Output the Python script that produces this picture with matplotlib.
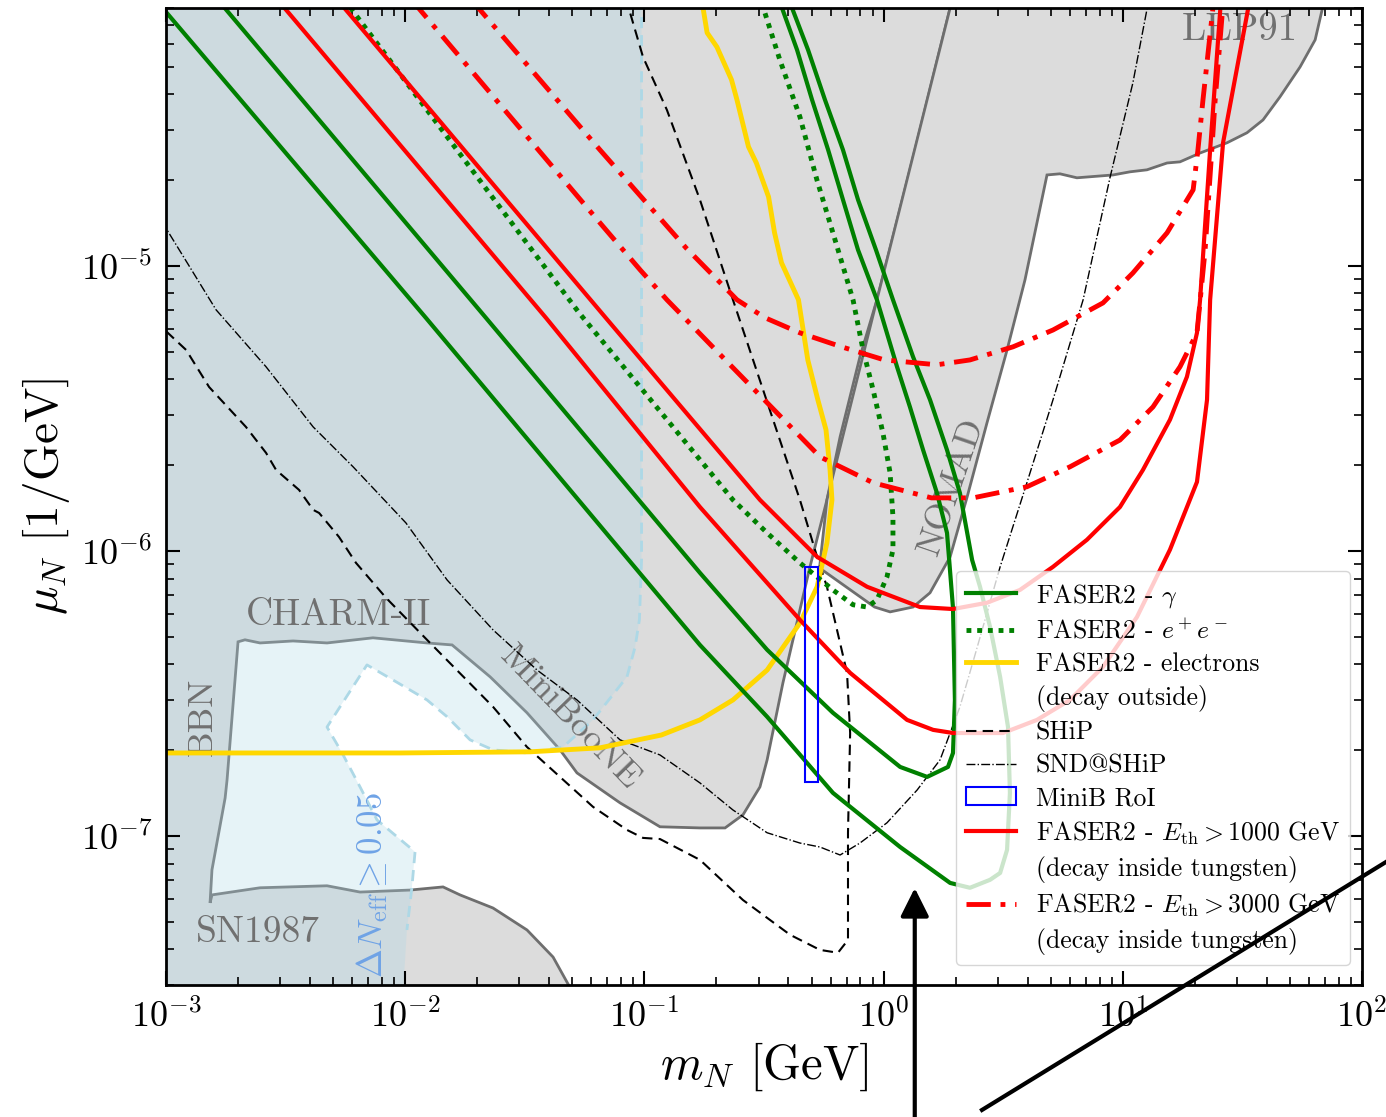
import numpy as np
import matplotlib.pyplot as plt
from matplotlib.lines import Line2D
from matplotlib.patches import Patch, Rectangle, FancyArrowPatch

plt.rcParams['font.family'] = 'serif'
plt.rcParams['font.serif'] = ['cmr10', 'DejaVu Serif']
plt.rcParams['mathtext.fontset'] = 'cm'
plt.rcParams['axes.formatter.use_mathtext'] = True

# all curves as log10(m_N / GeV), log10(mu_N * GeV)

# excluded: BBN / CHARM-II / MiniBooNE / SN1987
mb_lm = [-3.2, -3.2, -1.20, -1.382, -1.491, -1.633, -1.771, -1.842, -1.980, -2.189, -2.327, -2.607,
         -2.808, -2.816, -2.808, -2.753, -2.745, -2.699, -2.670, -2.607, -2.469, -2.327, -2.135,
         -1.909, -1.804, -1.645, -1.491, -1.353, -1.282, -1.102, -0.935, -0.768, -0.663, -0.588,
         -0.517, -0.487, -0.421, -0.350, -0.308, -0.237, -0.182, -0.099, -0.028, 0.131, 0.278, 0.31]
mb_lmu = [-3.9, -7.7, -7.7, -7.425, -7.330, -7.253, -7.207, -7.179, -7.190, -7.197, -7.175, -7.182,
          -7.207, -7.235, -7.119, -6.867, -6.804, -6.319, -6.312, -6.323, -6.316, -6.323, -6.305,
          -6.323, -6.330, -6.442, -6.568, -6.698, -6.779, -6.884, -6.968, -6.972, -6.972, -6.926,
          -6.828, -6.733, -6.463, -6.207, -6.056, -5.821, -5.600, -5.319, -5.119, -4.593, -4.095, -3.9]

# excluded: NOMAD + LEP91
nl_lm = [0.31, 1.84, 1.833, 1.804, 1.741, 1.657, 1.586, 1.519, 1.436, 1.323, 1.239, 1.185, 1.101,
         1.030, 0.959, 0.808, 0.737, 0.683, 0.591, 0.516, 0.432, 0.349, 0.278, 0.194, 0.123, 0.027,
         -0.038, -0.122, -0.268, -0.237, -0.028, 0.278, 0.31]
nl_lmu = [-3.9, -3.9, -4.102, -4.207, -4.302, -4.407, -4.488, -4.533, -4.568, -4.604, -4.635, -4.639,
          -4.663, -4.670, -4.681, -4.691, -4.677, -4.681, -5.049, -5.295, -5.551, -5.811, -6.021,
          -6.147, -6.197, -6.214, -6.197, -6.147, -6.06, -5.821, -5.119, -4.095, -3.9]

# Delta N_eff >= 0.05
dn_lm = [-3.2, -1.012, -1.012, -1.021, -1.039, -1.073, -1.215, -1.340, -1.491, -1.633, -1.729, -1.825,
         -1.909, -2.051, -2.160, -2.327, -2.264, -2.189, -2.118, -1.959, -1.972, -1.993, -2.02, -3.2]
dn_lmu = [-3.9, -3.9, -6.032, -6.242, -6.337, -6.442, -6.593, -6.688, -6.709, -6.698, -6.663, -6.582,
          -6.523, -6.453, -6.400, -6.618, -6.709, -6.828, -6.944, -7.056, -7.179, -7.330, -7.7, -7.7]

# FASER2 - gamma, two contours
g1_lm = [-2.79, -1.662, -0.768, -0.487, -0.212, 0.069, 0.182, 0.269, 0.290, 0.298, 0.290, 0.265,
         0.223, 0.165, 0.110, 0.056, -0.028, -0.107, -0.170, -0.232, -0.299, -0.362, -0.425, -0.44]
g1_lmu = [-4.06, -5.183, -6.077, -6.347, -6.568, -6.758, -6.793, -6.758, -6.709, -6.523, -6.200, -5.937,
          -5.797, -5.646, -5.495, -5.354, -5.119, -4.944, -4.768, -4.593, -4.418, -4.242, -4.095, -4.05]
g2_lm = [-3.05, -1.913, -0.768, -0.487, -0.212, 0.069, 0.278, 0.361, 0.445, 0.487, 0.516, 0.528,
         0.520, 0.487, 0.445, 0.403, 0.370, 0.319, 0.265, 0.194, 0.123, 0.039, -0.032, -0.107,
         -0.170, -0.245, -0.316, -0.383, -0.39]
g2_lmu = [-4.06, -5.183, -6.330, -6.582, -6.849, -7.039, -7.165, -7.182, -7.154, -7.130, -7.049, -6.849,
          -6.618, -6.442, -6.267, -6.126, -6.032, -5.797, -5.646, -5.470, -5.319, -5.119, -4.944, -4.768,
          -4.593, -4.418, -4.242, -4.095, -4.05]

# FASER2 - e+e-
ee_lm = [-2.26, -1.273, -0.630, -0.487, -0.350, -0.212, -0.128, -0.069, -0.028, 0.014, 0.039, 0.039,
         0.027, -0.003, -0.044, -0.086, -0.128, -0.212, -0.279, -0.350, -0.434, -0.52]
ee_lmu = [-4.06, -5.165, -5.821, -5.937, -6.042, -6.137, -6.189, -6.197, -6.172, -6.091, -5.996, -5.881,
          -5.726, -5.586, -5.435, -5.295, -5.119, -4.884, -4.698, -4.477, -4.277, -4.05]

# FASER2 - electrons
el_lm = [-3.1, -2.022, -1.478, -1.186, -0.929, -0.768, -0.630, -0.487, -0.350, -0.278, -0.237, -0.216,
         -0.224, -0.241, -0.275, -0.317, -0.356, -0.427, -0.456, -0.481, -0.532, -0.565, -0.613,
         -0.636, -0.697, -0.738, -0.755, -0.76]
el_lmu = [-6.709, -6.709, -6.705, -6.691, -6.646, -6.593, -6.523, -6.418, -6.253, -6.126, -5.972, -5.821,
          -5.716, -5.575, -5.470, -5.330, -5.119, -4.989, -4.884, -4.758, -4.639, -4.582, -4.418,
          -4.347, -4.232, -4.182, -4.095, -4.05]

# FASER2 - E_th > 1000 GeV, two contours
ra_lm = [-2.54, -1.411, -0.768, -0.350, -0.140, 0.098, 0.207, 0.290, 0.499, 0.641, 0.779, 0.917,
         1.059, 1.197, 1.310, 1.352, 1.365, 1.419, 1.53]
ra_lmu = [-4.06, -5.183, -5.846, -6.242, -6.428, -6.593, -6.628, -6.639, -6.639, -6.593, -6.523, -6.407,
          -6.232, -5.996, -5.758, -5.470, -5.119, -4.568, -4.07]
rb_lm = [-2.29, -1.161, -0.517, -0.278, -0.069, 0.152, 0.290, 0.432, 0.570, 0.708, 0.850, 0.988,
         1.084, 1.197, 1.268, 1.310, 1.323, 1.365, 1.41]
rb_lmu = [-4.06, -5.183, -5.821, -6.021, -6.126, -6.197, -6.204, -6.182, -6.137, -6.056, -5.961, -5.846,
          -5.716, -5.540, -5.389, -5.235, -5.119, -4.593, -4.07]

# FASER2 - E_th > 3000 GeV, two contours
rd1_lm = [-1.73, -1.186, -0.826, -0.613, -0.496, -0.350, -0.176, 0.003, 0.223, 0.361, 0.541, 0.708,
          0.917, 1.042, 1.185, 1.294, 1.314, 1.335, 1.38]
rd1_lmu = [-4.06, -4.593, -4.937, -5.119, -5.182, -5.235, -5.284, -5.330, -5.347, -5.330, -5.284, -5.225,
           -5.130, -5.025, -4.884, -4.733, -4.593, -4.418, -4.07]
rd2_lm = [-1.98, -1.186, -1.018, -0.906, -0.642, -0.266, -0.044, 0.200, 0.374, 0.599, 0.779, 0.988,
          1.126, 1.239, 1.310, 1.344, 1.386, 1.42]
rd2_lmu = [-4.06, -4.849, -5.014, -5.119, -5.347, -5.670, -5.761, -5.814, -5.814, -5.775, -5.705, -5.611,
           -5.495, -5.354, -5.235, -4.944, -4.418, -4.07]

# SHiP
ship_lm = [-3.05, -2.916, -2.820, -2.666, -2.582, -2.540, -2.444, -2.385, -2.360, -2.277, -2.206, -2.080,
           -1.909, -1.633, -1.491, -1.353, -1.215, -1.073, -1.006, -0.935, -0.768, -0.588, -0.391,
           -0.266, -0.191, -0.149, -0.149, -0.149, -0.140, -0.153, -0.237, -0.278, -0.350, -0.630,
           -0.768, -0.906, -1.006, -1.060, -1.08]
ship_lmu = [-5.19, -5.295, -5.425, -5.565, -5.656, -5.716, -5.786, -5.856, -5.867, -5.951, -6.042, -6.165,
            -6.312, -6.547, -6.688, -6.793, -6.898, -6.979, -7.007, -7.011, -7.084, -7.225, -7.347,
            -7.400, -7.410, -7.365, -7.225, -6.989, -6.639, -6.428, -6.126, -6.021, -5.821, -5.119,
            -4.768, -4.453, -4.267, -4.112, -4.04]

# SND@SHiP
snd_lm = [-3.05, -2.791, -2.582, -2.385, -2.218, -1.997, -1.825, -1.633, -1.449, -1.282, -1.102, -0.935,
          -0.768, -0.630, -0.487, -0.350, -0.266, -0.182, -0.099, 0.014, 0.140, 0.236, 0.319, 0.382,
          0.487, 0.599, 0.708, 0.834, 0.947, 1.042, 1.11]
snd_lmu = [-4.80, -5.154, -5.354, -5.565, -5.705, -5.902, -6.102, -6.277, -6.418, -6.523, -6.663, -6.716,
           -6.814, -6.909, -6.989, -7.025, -7.039, -7.067, -7.025, -6.954, -6.839, -6.733, -6.547, -6.365,
           -6.056, -5.761, -5.470, -5.119, -4.688, -4.358, -4.06]

# MiniBooNE region of interest
roi_m = [0.469, 0.532]
roi_mu = [1.55e-7, 8.8e-7]


def d(a):
    return 10**np.array(a, dtype=float)


fig = plt.figure(figsize=(13.86, 11.17), dpi=100)
ax = fig.add_axes([0.1198, 0.1182, 0.8629, 0.8747])
ax.set_xscale('log')
ax.set_yscale('log')

gray_edge = '#6e6e6e'
ax.fill(d(mb_lm), d(mb_lmu), facecolor='#dcdcdc', edgecolor=gray_edge, lw=2, zorder=1)
ax.fill(d(nl_lm), d(nl_lmu), facecolor='#dcdcdc', edgecolor=gray_edge, lw=2, zorder=1)
ax.fill(d(dn_lm), d(dn_lmu), facecolor='lightblue', alpha=0.3, lw=0, zorder=1.1)
ax.plot(d(dn_lm[1:-2]), d(dn_lmu[1:-2]), color='lightblue', lw=2, ls=(0, (4, 2.5)), zorder=1.2)

tcol = '#707070'
ax.text(10**-2.281, 10**-6.225, 'CHARM-II', color=tcol, fontsize=27, ha='center', va='center', zorder=1.5)
ax.text(10**-2.615, 10**-7.337, 'SN1987', color=tcol, fontsize=27, ha='center', va='center', zorder=1.5)
ax.text(10**-2.845, 10**-6.582, 'BBN', color=tcol, fontsize=26, rotation=90, ha='center', va='center', zorder=1.5)
ax.text(10**-1.311, 10**-6.586, 'MiniBooNE', color=tcol, fontsize=26, rotation=-46,
        ha='center', va='center', rotation_mode='anchor', zorder=1.5)
ax.text(10**0.286, 10**-5.776, 'NOMAD', color=tcol, fontsize=26, rotation=71,
        ha='center', va='center', rotation_mode='anchor', zorder=1.5)
ax.text(10**1.49, 10**-4.172, 'LEP91', color=tcol, fontsize=28, ha='center', va='center', zorder=1.5)
ax.text(10**-2.139, 10**-7.172, r'$\Delta N_{\rm eff} \geq 0.05$', color='#6fa3e6', fontsize=25,
        rotation=90, ha='center', va='center', zorder=1.5)

ax.plot(d(ship_lm), d(ship_lmu), color='k', lw=1.5, ls=(0, (5, 3)), zorder=2)
ax.plot(d(snd_lm), d(snd_lmu), color='k', lw=1, ls='-.', zorder=2)
ax.plot(d(el_lm), d(el_lmu), color='gold', lw=3.5, zorder=2.1)
ax.plot(d(g1_lm), d(g1_lmu), color='green', lw=3, zorder=2.2)
ax.plot(d(g2_lm), d(g2_lmu), color='green', lw=3, zorder=2.2)
ax.plot(d(ee_lm), d(ee_lmu), color='green', lw=3.5, ls=(0, (1, 1.2)), zorder=2.2)
ax.plot(d(ra_lm), d(ra_lmu), color='red', lw=3, zorder=2.3)
ax.plot(d(rb_lm), d(rb_lmu), color='red', lw=3, zorder=2.3)
ax.plot(d(rd1_lm), d(rd1_lmu), color='red', lw=3.5, ls=(0, (5, 2, 1, 2)), zorder=2.3)
ax.plot(d(rd2_lm), d(rd2_lmu), color='red', lw=3.5, ls=(0, (5, 2, 1, 2)), zorder=2.3)
ax.add_patch(Rectangle((roi_m[0], roi_mu[0]), roi_m[1] - roi_m[0], roi_mu[1] - roi_mu[0],
                       fill=False, edgecolor='blue', lw=1.5, zorder=2.4))

ax.set_xlim(1e-3, 1e2)
ax.set_ylim(10**-7.523, 10**-4.095)
ax.set_xlabel(r'$m_N$ [GeV]', fontsize=35, labelpad=4)
ax.set_ylabel(r'$\mu_N$ [1/GeV]', fontsize=34, labelpad=6)
ax.tick_params(which='both', direction='in', top=True, right=True, labelsize=26, pad=10)
ax.tick_params(which='major', length=10, width=1.5)
ax.tick_params(which='minor', length=6, width=1.2)
for s in ax.spines.values():
    s.set_linewidth(2)

blank = Line2D([], [], color='none')
handles = [
    Line2D([], [], color='green', lw=3),
    Line2D([], [], color='green', lw=3.5, ls=(0, (1, 1.2))),
    Line2D([], [], color='gold', lw=3.5),
    blank,
    Line2D([], [], color='k', lw=1.5, ls=(0, (5, 3))),
    Line2D([], [], color='k', lw=1, ls='-.'),
    Patch(facecolor='none', edgecolor='blue', lw=1.5),
    Line2D([], [], color='red', lw=3),
    blank,
    Line2D([], [], color='red', lw=3.5, ls=(0, (5, 2, 1, 2))),
    blank,
]
labels = [
    r'FASER2 - $\gamma$',
    r'FASER2 - $e^+e^-$',
    'FASER2 - electrons',
    '(decay outside)',
    'SHiP',
    'SND@SHiP',
    'MiniB RoI',
    r'FASER2 - $E_{\rm th} > 1000$ GeV',
    '(decay inside tungsten)',
    r'FASER2 - $E_{\rm th} > 3000$ GeV',
    '(decay inside tungsten)',
]
leg = ax.legend(handles, labels, loc='lower right', bbox_to_anchor=(0.99, 0.02), borderaxespad=0,
                fontsize=18.5, handlelength=1.95, handletextpad=0.75, labelspacing=0.35)
leg.set_zorder(5)

# annotation marks drawn over the figure
fig.add_artist(FancyArrowPatch((0.660, -0.01), (0.660, 0.205), transform=fig.transFigure,
                               arrowstyle='-|>', mutation_scale=43, lw=3, color='k',
                               shrinkA=0, shrinkB=0))
fig.add_artist(Line2D([0.7085, 1.0], [0.0063, 0.2283], transform=fig.transFigure, color='k', lw=3))

plt.savefig('out.png')
